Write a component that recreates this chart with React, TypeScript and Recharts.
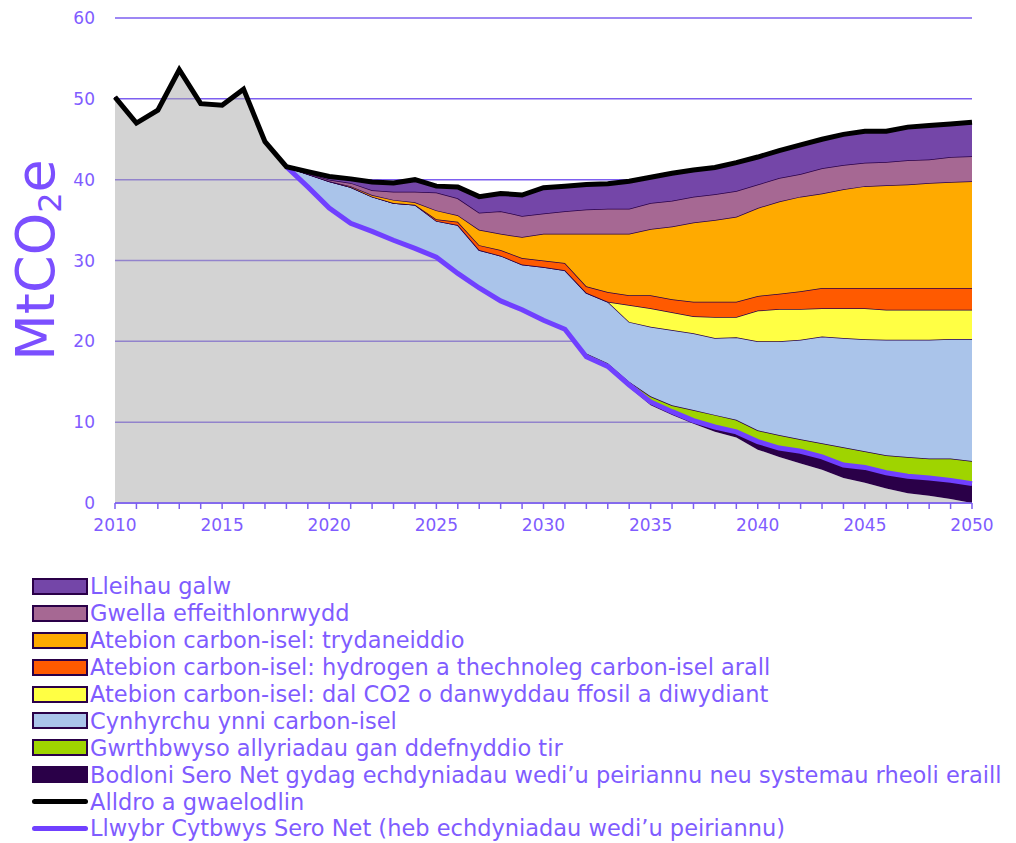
import React from 'react'
import {
  ComposedChart, Area, Line, XAxis, YAxis, CartesianGrid,
} from 'recharts'

// years on the axis
const years = [
  2010, 2011, 2012, 2013, 2014, 2015, 2016, 2017, 2018, 2019,
  2020, 2021, 2022, 2023, 2024, 2025, 2026, 2027, 2028, 2029,
  2030, 2031, 2032, 2033, 2034, 2035, 2036, 2037, 2038, 2039,
  2040, 2041, 2042, 2043, 2044, 2045, 2046, 2047, 2048, 2049, 2050,
]
const labelYears = [2010, 2015, 2020, 2025, 2030, 2035, 2040, 2045, 2050]
const yTicks = [0, 10, 20, 30, 40, 50, 60]

// Alldro a gwaelodlin, 2010-2050
const baseline = [
  50.2, 47.0, 48.6, 53.6, 49.4, 49.2, 51.2, 44.7, 41.6, 41.0,
  40.4, 40.1, 39.7, 39.6, 40.0, 39.2, 39.1, 37.9, 38.3, 38.1,
  39.0, 39.2, 39.4, 39.5, 39.8, 40.3, 40.8, 41.2, 41.5, 42.1,
  42.8, 43.6, 44.3, 45.0, 45.6, 46.0, 46.0, 46.5, 46.7, 46.9, 47.1,
]

// the scenario series below all run 2018-2050
const firstScenarioYear = 2018
const pathway = [
  41.6, 39.1, 36.5, 34.6, 33.6, 32.5, 31.5, 30.4, 28.4, 26.6,
  25.0, 23.9, 22.6, 21.5, 18.1, 16.9, 14.6, 12.5, 11.3, 10.2,
  9.4, 8.8, 7.6, 6.8, 6.4, 5.7, 4.7, 4.4, 3.75, 3.3, 3.1, 2.8, 2.4,
]
const removals = [
  0, 0, 0, 0, 0, 0, 0, 0, 0, 0,
  0, 0, 0, 0, 0, 0.2, 0.3, 0.4, 0.4, 0.4,
  0.6, 0.7, 1.0, 1.1, 1.5, 1.6, 1.6, 1.9, 1.95, 2.1, 2.2, 2.3, 2.4,
]
const landUse = [
  0, 0, 0, 0, 0, 0, 0, 0, 0, 0,
  0, 0, 0, 0, 0.4, 0.4, 0.4, 0.7, 0.8, 1.3,
  1.5, 1.5, 1.4, 1.6, 1.5, 1.7, 2.2, 2.0, 2.15, 2.4, 2.4, 2.7, 2.8,
]
const lowCarbonPower = [
  0, 1.6, 3.3, 4.5, 4.3, 4.6, 5.4, 4.5, 6.0, 4.7,
  5.6, 5.6, 6.6, 7.3, 7.5, 7.6, 7.4, 8.6, 9.3, 9.5,
  9.5, 10.2, 11.0, 11.6, 12.3, 13.2, 13.5, 13.85, 14.3, 14.5, 14.7, 14.8, 15.1,
]
const ccs = [
  0, 0, 0, 0, 0, 0, 0, 0, 0, 0,
  0, 0, 0, 0, 0, 0, 2.1, 2.3, 2.2, 2.1,
  2.6, 2.5, 3.8, 4.0, 3.8, 3.5, 3.7, 3.85, 3.7, 3.7, 3.7, 3.6, 3.6,
]
const hydrogen = [
  0, 0, 0, 0, 0, 0, 0, 0.2, 0.4, 0.6,
  0.7, 0.8, 0.8, 0.9, 0.8, 1.2, 1.2, 1.6, 1.6, 1.8,
  1.9, 1.9, 1.8, 1.9, 2.2, 2.5, 2.5, 2.5, 2.7, 2.7, 2.7, 2.7, 2.7,
]
const electrification = [
  0, 0, 0, 0.1, 0.2, 0.4, 0.3, 1.1, 0.8, 1.9,
  2.0, 2.6, 3.3, 3.6, 6.5, 7.2, 7.6, 8.2, 9.0, 9.8,
  10.1, 10.5, 10.9, 11.4, 11.7, 11.7, 12.2, 12.6, 12.7, 12.8, 13.0, 13.1, 13.2,
]
const efficiency = [
  0, 0.1, 0.2, 0.4, 0.6, 1.0, 1.3, 2.2, 2.1, 2.1,
  2.8, 2.6, 2.5, 2.8, 3.0, 3.1, 3.1, 3.2, 3.2, 3.2,
  3.2, 3.2, 2.9, 2.9, 2.8, 3.1, 3.0, 2.9, 2.9, 3.0, 2.9, 3.1, 3.1,
]
const demand = [
  0, 0.2, 0.4, 0.5, 1.0, 1.1, 1.5, 0.9, 1.4, 2.0,
  2.2, 2.6, 3.2, 3.1, 3.1, 3.1, 3.4, 3.2, 3.4, 3.3,
  3.3, 3.5, 3.4, 3.4, 3.6, 3.6, 3.8, 3.9, 3.8, 4.1, 4.2, 4.1, 4.2,
]

const OUTLINE = '#2A0048'
const PURPLE_TEXT = '#7F5CFF'
const GRID = '#7D5FF0'

// stack order, bottom to top
const bands = [
  { key: 'removals', values: removals, fill: '#2A0048', name: 'Bodloni Sero Net gydag echdyniadau wedi\u2019u peiriannu neu systemau rheoli eraill' },
  { key: 'landUse', values: landUse, fill: '#9FD400', name: 'Gwrthbwyso allyriadau gan ddefnyddio tir' },
  { key: 'power', values: lowCarbonPower, fill: '#AAC4EA', name: 'Cynhyrchu ynni carbon-isel' },
  { key: 'ccs', values: ccs, fill: '#FFFF44', name: 'Atebion carbon-isel: dal CO2 o danwyddau ffosil a diwydiant' },
  { key: 'hydrogen', values: hydrogen, fill: '#FF5A00', name: 'Atebion carbon-isel: hydrogen a thechnoleg carbon-isel arall' },
  { key: 'electrification', values: electrification, fill: '#FFAA00', name: 'Atebion carbon-isel: trydaneiddio' },
  { key: 'efficiency', values: efficiency, fill: '#A66893', name: 'Gwella effeithlonrwydd' },
  { key: 'demand', values: demand, fill: '#7446A8', name: 'Lleihau galw' },
]

const data = years.map((year, i) => {
  const j = year - firstScenarioYear
  const row: any = { year, baseline: baseline[i] }
  if (j < 0) {
    row.grey = baseline[i]
    bands.forEach(b => { row[b.key] = 0 })
    row.pathway = null
  } else {
    row.grey = pathway[j] - removals[j]
    bands.forEach(b => { row[b.key] = b.values[j] })
    row.pathway = pathway[j]
  }
  return row
})

const XTick = ({ x, y, payload }: any) => {
  if (!labelYears.includes(payload.value)) return <g />
  return (
    <text x={x} y={y + 20} textAnchor="middle" fontSize={17} fill={PURPLE_TEXT}>
      {payload.value}
    </text>
  )
}

const legendRows = [
  ...[...bands].reverse().map(b => ({ name: b.name, fill: b.fill, line: null as string | null })),
  { name: 'Alldro a gwaelodlin', fill: '', line: '#000000' },
  { name: 'Llwybr Cytbwys Sero Net (heb echdyniadau wedi\u2019u peiriannu)', fill: '', line: '#7040FF' },
]

export default function App() {
  return (
    <div style={{ position: 'relative', width: 1000, fontFamily: '"DejaVu Sans", sans-serif' }}>
      <ComposedChart
        width={1000}
        height={560}
        data={data}
        margin={{ top: 10, right: 36, bottom: 25, left: 0 }}
      >
        <CartesianGrid vertical={false} stroke={GRID} strokeWidth={1.5} />
        <XAxis
          dataKey="year"
          type="number"
          domain={[2010, 2050]}
          ticks={years}
          interval={0}
          height={40}
          tick={<XTick />}
          tickSize={6}
          tickLine={{ stroke: GRID, strokeWidth: 1.5 }}
          axisLine={{ stroke: GRID, strokeWidth: 1.5 }}
        />
        <YAxis
          domain={[0, 60]}
          ticks={yTicks}
          width={107}
          axisLine={false}
          tickLine={false}
          tickMargin={14}
          tick={{ fontSize: 17, fill: PURPLE_TEXT }}
        />
        <Area
          type="linear"
          dataKey="grey"
          stackId="s"
          fill="#A8A8A8"
          fillOpacity={0.5}
          stroke="none"
          isAnimationActive={false}
        />
        {bands.map(b => (
          <Area
            key={b.key}
            type="linear"
            dataKey={b.key}
            stackId="s"
            fill={b.fill}
            fillOpacity={1}
            stroke={OUTLINE}
            strokeWidth={1.5}
            isAnimationActive={false}
          />
        ))}
        <Line
          type="linear"
          dataKey="pathway"
          stroke="#7040FF"
          strokeWidth={5}
          dot={false}
          isAnimationActive={false}
        />
        <Line
          type="linear"
          dataKey="baseline"
          stroke="#000000"
          strokeWidth={5}
          dot={false}
          isAnimationActive={false}
        />
      </ComposedChart>
      <div
        style={{
          position: 'absolute', left: 29, top: 252,
          transform: 'translate(-50%, -50%) rotate(-90deg)',
          fontSize: 54, color: '#7B4FFF', whiteSpace: 'nowrap', lineHeight: 1,
        }}
      >
        MtCO<sub style={{ fontSize: 32, verticalAlign: -7 }}>2</sub>e
      </div>
      <div style={{ marginTop: 5 }}>
        {legendRows.map(r => (
          <div key={r.name} style={{ display: 'flex', alignItems: 'center', height: 26.9 }}>
            {r.line ? (
              <div style={{ marginLeft: 24, width: 56, height: 5, borderRadius: 3, background: r.line }} />
            ) : (
              <div style={{
                marginLeft: 24, width: 56, height: 17, boxSizing: 'border-box',
                border: `2px solid ${OUTLINE}`, background: r.fill,
              }} />
            )}
            <span style={{ marginLeft: 2, fontSize: 22.5, color: PURPLE_TEXT, whiteSpace: 'nowrap' }}>
              {r.name}
            </span>
          </div>
        ))}
      </div>
    </div>
  )
}
